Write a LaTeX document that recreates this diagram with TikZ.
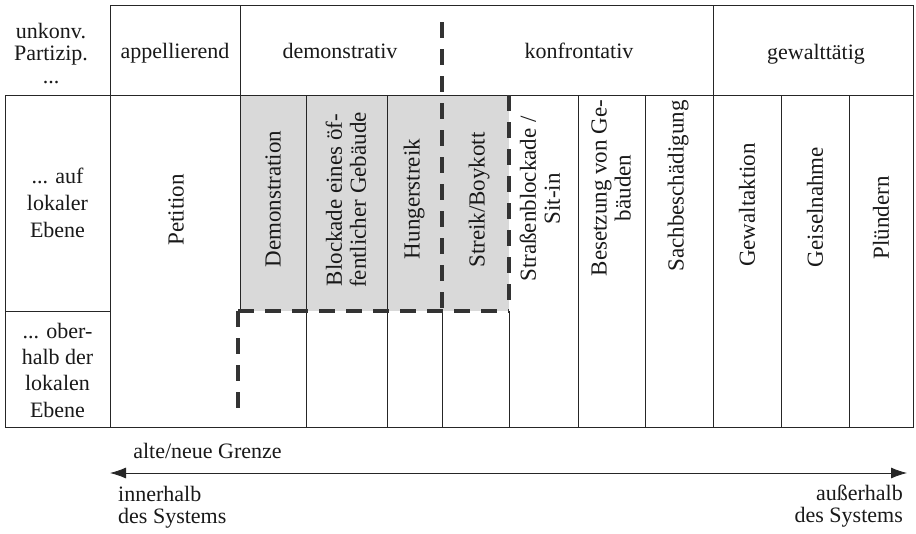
\documentclass[tikz,border=0pt]{standalone}
\usepackage{fontspec}
\setmainfont{Liberation Serif}
\usetikzlibrary{arrows.meta}
\begin{document}
\begin{tikzpicture}[x=1pt,y=-1pt,
  thinline/.style={line width=0.8pt, draw=black!85},
  grenze/.style={line width=3.6pt, draw=black!80, dash pattern=on 16pt off 11pt},
  lbl/.style={font=\fontsize{22}{24}\selectfont, inner sep=0pt, text=black!90},
  rlbl/.style={font=\fontsize{23}{24}\selectfont, inner sep=0pt, text=black!90, rotate=90, align=center},
  axisarrow/.style={thinline, {Latex[length=16pt,width=11pt]}-{Latex[length=16pt,width=11pt]}},
]
\useasboundingbox[fill=white] (0,0) rectangle (916,533);
% shaded area
\fill[black!15] (240,95) rectangle (509,311);

% table frame and rules
\draw[thinline] (110,5) -- (913,5) -- (913,427) -- (5,427) -- (5,95) -- (913,95);
\draw[thinline] (110,5) -- (110,427);
\draw[thinline] (240,5) -- (240,311);
\draw[thinline] (713,5) -- (713,427);
\draw[thinline] (5,311) -- (110,311);
\foreach \x in {306,387,578,645,781,849} \draw[thinline] (\x,95) -- (\x,427);
\draw[thinline] (442,311) -- (442,427);
\draw[thinline] (509,311) -- (509,427);

% alte/neue Grenze
\draw[grenze] (442,22) -- (442,311);
\draw[grenze] (509,95) -- (509,311);
\draw[grenze] (238,311) -- (509,311);
\draw[grenze] (238,311) -- (238,418);

% header texts
\node[lbl, anchor=base] (h1a) at (51,38) {unkonv.};
\node[lbl, anchor=base] (h1b) at (51,60) {Partizip.};
\node[lbl, anchor=base] (h1c) at (51,83) {...};
\node[lbl, anchor=base] (h2) at (175,58) {appellierend};
\node[lbl, anchor=base] (h3) at (340,58) {demonstrativ};
\node[lbl, anchor=base] (h4) at (579,58) {konfrontativ};
\node[lbl, anchor=base] (h5) at (816,59) {gewalttätig};

% left column
\node[lbl, anchor=base] (l1a) at (57.5,183) {... auf};
\node[lbl, anchor=base] (l1b) at (57.5,210) {lokaler};
\node[lbl, anchor=base] (l1c) at (57.5,237) {Ebene};
\node[lbl, anchor=base] (l2a) at (57.5,338) {... ober-};
\node[lbl, anchor=base] (l2b) at (57.5,364) {halb der};
\node[lbl, anchor=base] (l2c) at (57.5,390) {lokalen};
\node[lbl, anchor=base] (l2d) at (57.5,417) {Ebene};

% rotated entries
\node[rlbl] (c1) at (176,210) {Petition};
\node[rlbl] (c2) at (273,199) {Demonstration};
\node[rlbl] (c3) at (346,200) {Blockade eines öf-\\fentlicher Gebäude};
\node[rlbl] (c4) at (414,199) {Hungerstreik};
\node[rlbl] (c5) at (479,200) {Streik/Boykott};
\node[rlbl] (c6) at (540,199) {Straßenblockade /\\Sit-in};
\node[rlbl] (c7) at (611,188) {Besetzung von Ge-\\bäuden};
\node[rlbl] (c8) at (678,186) {Sachbeschädigung};
\node[rlbl] (c9) at (747,205) {Gewaltaktion};
\node[rlbl] (c10) at (815,207) {Geiselnahme};
\node[rlbl] (c11) at (881,218) {Plündern};

% axis
\coordinate (axL) at (110,473);
\coordinate (axR) at (907,473);
\draw[axisarrow] (axL) -- (axR);
\node[lbl, anchor=base] (g) at (207.5,458) {alte/neue Grenze};
\node[lbl, anchor=base west] (in1) at (118,501) {innerhalb};
\node[lbl, anchor=base west] (in2) at (118,523) {des Systems};
\node[lbl, anchor=base east] (out1) at (903,500) {außerhalb};
\node[lbl, anchor=base east] (out2) at (903,522) {des Systems};
\end{tikzpicture}
\end{document}
